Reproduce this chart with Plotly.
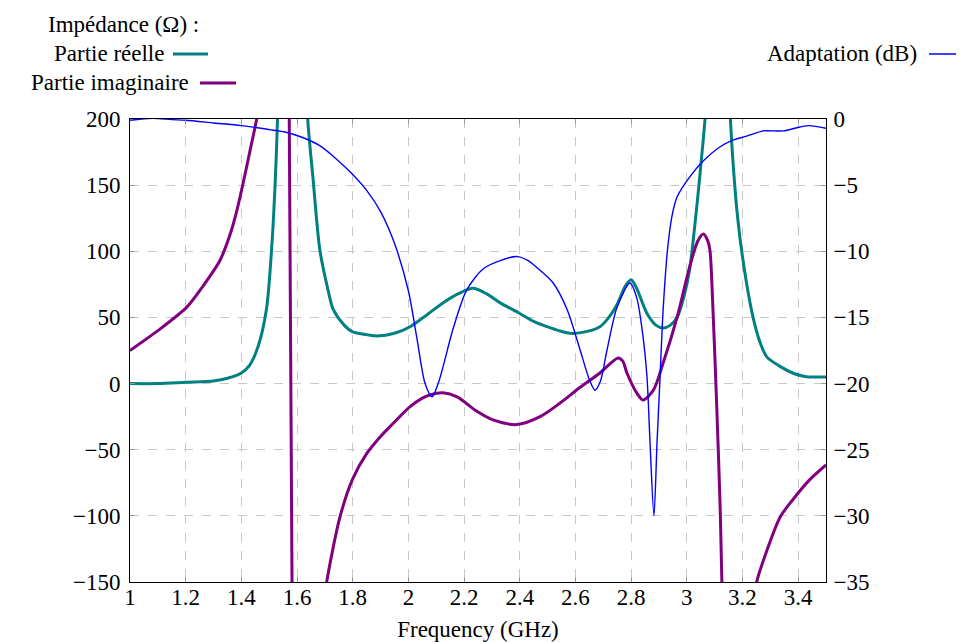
import plotly.graph_objects as go

# ---------------- data ----------------
# Real part of impedance (Ohm); None separates branches around resonances
freq_re = [1.0, 1.1, 1.2, 1.3, 1.35, 1.4, 1.43, 1.46, 1.49, 1.51, 1.525, 1.535, None,
           1.628, 1.64, 1.657, 1.682, 1.71, 1.73, 1.77, 1.8, 1.85, 1.887, 1.95, 2.006,
           2.06, 2.124, 2.18, 2.232, 2.28, 2.33, 2.4, 2.45, 2.498, 2.54, 2.58, 2.62,
           2.688, 2.72, 2.75, 2.78, 2.8, 2.82, 2.857, 2.89, 2.915, 2.94, 2.965, 2.99,
           3.01, 3.037, 3.058, 3.072, None,
           3.152, 3.162, 3.18, 3.202, 3.238, 3.265, 3.288, 3.335, 3.38, 3.42, 3.44, 3.5]
re_part = [0, 0, 1, 2, 4, 8, 14, 28, 56, 106, 170, 240, None,
           240, 195, 156, 101, 72, 56, 44, 39, 37, 36, 38, 43,
           51, 61, 68, 72, 68, 61, 53, 47, 43, 40, 38, 38.5,
           43, 50, 60, 74, 78.5, 72, 53, 44, 42, 44, 50, 66,
           86, 136, 182, 215, None,
           220, 180, 131, 93, 50, 30, 20, 13, 8, 5.5, 5, 5]

# Imaginary part of impedance (Ohm)
freq_im = [1.0, 1.1, 1.205, 1.26, 1.323, 1.36, 1.384, 1.41, 1.43, 1.455, 1.47, 1.49, None,
           1.5706, 1.5834, None,
           1.70, 1.7066, 1.754, 1.8, 1.85, 1.9, 1.946, 2.006, 2.05, 2.077, 2.124, 2.175,
           2.246, 2.304, 2.39, 2.473, 2.545, 2.616, 2.688, 2.753, 2.77, 2.785, 2.82,
           2.843, 2.88, 2.915, 2.965, 3.01, 3.04, 3.06, 3.075, 3.083, 3.094, 3.108,
           3.12, 3.126, 3.132, None,
           3.243, 3.251, 3.288, 3.335, 3.38, 3.44, 3.5]
im_part = [25, 40, 58, 73, 93, 113, 131, 155, 175, 200, 222, 260, None,
           250, -200, None,
           -162, -150, -101, -72, -53, -40, -30, -17.5, -11, -8.6, -7, -10,
           -21, -27.5, -31, -25, -14.7, -3, 8, 19.4, 17, 8, -7,
           -12.4, -5, 15.5, 50, 88, 108, 113, 108, 101, 56, -20,
           -95, -150, -190, None,
           -165, -150, -126, -101, -88, -73, -61.5]

# Matching (dB), right axis
freq_db = [1.0, 1.08, 1.15, 1.2, 1.3, 1.4, 1.5, 1.56, 1.62, 1.68, 1.74, 1.8, 1.85,
           1.9, 1.95, 2.0, 2.03, 2.06, 2.085, 2.11, 2.16, 2.21, 2.27, 2.33, 2.39,
           2.43, 2.46, 2.52, 2.57, 2.616, 2.65, 2.67, 2.69, 2.713, 2.75, 2.796,
           2.82, 2.84, 2.857, 2.868, 2.882, 2.893, 2.904, 2.915, 2.933, 2.95,
           2.965, 3.01, 3.058, 3.12, 3.166, 3.215, 3.275, 3.345, 3.407, 3.44, 3.5]
adapt_db = [-0.1, 0.05, -0.05, -0.1, -0.3, -0.5, -0.8, -1.0, -1.4, -2.0, -3.0, -4.2, -5.4,
            -7.0, -9.4, -13.0, -16.5, -20.0, -21.0, -19.8, -15.9, -12.9, -11.3, -10.7, -10.4,
            -10.7, -11.2, -12.4, -14.4, -17.4, -19.7, -20.5, -19.8, -17.5, -14.2, -12.4,
            -13.5, -16.0, -19.5, -24.5, -30.0, -24.5, -19.5, -14.4, -9.4, -7.0,
            -5.9, -4.4, -3.2, -2.1, -1.6, -1.3, -0.9, -0.9, -0.6, -0.5, -0.7]

x_ticks = [1, 1.2, 1.4, 1.6, 1.8, 2, 2.2, 2.4, 2.6, 2.8, 3, 3.2, 3.4]
x_labels = ["1", "1.2", "1.4", "1.6", "1.8", "2", "2.2", "2.4", "2.6", "2.8", "3", "3.2", "3.4"]

TEAL = "#008080"
PURPLE = "#800080"
BLUE = "#0000ff"
FONT = "Liberation Serif, DejaVu Serif, Noto Serif, Times New Roman, serif"
FS = 23

# page offset of the figure div (browser default body margin)
OFF = 8
W, H = 964 - OFF, 642 - OFF
L, R, T, B = 130 - OFF, 138, 119 - OFF, 60


def px(xp):
    """page pixel x -> paper coordinate"""
    xp -= OFF
    return (xp - L) / (W - L - R)


def py(yp):
    """page pixel y -> paper coordinate"""
    yp -= OFF
    return (H - B - yp) / (H - T - B)


fig = go.Figure()
fig.add_trace(go.Scatter(x=freq_re, y=re_part, mode="lines", yaxis="y",
                         line=dict(color=TEAL, width=3, shape="spline", smoothing=0.8),
                         connectgaps=False, showlegend=False, hoverinfo="skip"))
fig.add_trace(go.Scatter(x=freq_im, y=im_part, mode="lines", yaxis="y",
                         line=dict(color=PURPLE, width=3, shape="spline", smoothing=0.8),
                         connectgaps=False, showlegend=False, hoverinfo="skip"))
fig.add_trace(go.Scatter(x=freq_db, y=adapt_db, mode="lines", yaxis="y2",
                         line=dict(color=BLUE, width=1.4, shape="spline", smoothing=0.8),
                         showlegend=False, hoverinfo="skip"))

axis_common = dict(showline=True, linecolor="black", linewidth=1,
                   ticks="inside", ticklen=5, tickcolor="#999999",
                   tickfont=dict(family=FONT, size=FS, color="black"),
                   zeroline=False, automargin=False)

fig.update_layout(
    width=W, height=H,
    margin=dict(l=L, r=R, t=T, b=B),
    paper_bgcolor="white", plot_bgcolor="white",
    font=dict(family=FONT, size=FS, color="black"),
    xaxis=dict(range=[1, 3.5], tickvals=x_ticks, ticktext=x_labels,
               showgrid=True, gridcolor="#c8c8c8", griddash="dash", gridwidth=1,
               mirror="ticks", ticklabelstandoff=-6,
               title=dict(text="Frequency (GHz)", font=dict(family=FONT, size=FS), standoff=12),
               **axis_common),
    yaxis=dict(range=[-150, 200], tick0=-150, dtick=50,
               showgrid=True, gridcolor="#c8c8c8", griddash="dash", gridwidth=1,
               ticklabelstandoff=4,
               **axis_common),
    yaxis2=dict(range=[-35, 0], tick0=-35, dtick=5, overlaying="y", side="right",
                showgrid=False, ticklabelstandoff=2,
                **axis_common),
)

# Legend, drawn as text + line samples (text sits left of the sample like the original)
annots = [
    ("Impédance (Ω) :", 123, 24, "center"),
    ("Partie réelle", 166, 53, "right"),
    ("Partie imaginaire", 191, 82, "right"),
    ("Adaptation (dB)", 919, 53, "right"),
]
for txt, xr, yc, anchor in annots:
    fig.add_annotation(text=txt, xref="paper", yref="paper", x=px(xr), y=py(yc),
                       xanchor=anchor, yanchor="middle", showarrow=False,
                       font=dict(family=FONT, size=FS, color="black"))

samples = [(173, 208, 54, TEAL, 3), (200, 236, 83, PURPLE, 3), (929, 960, 54, BLUE, 1.5)]
for x0, x1, yy, col, w in samples:
    fig.add_shape(type="line", xref="paper", yref="paper",
                  x0=px(x0), x1=px(x1), y0=py(yy), y1=py(yy),
                  line=dict(color=col, width=w))

fig.write_html("out.html")
